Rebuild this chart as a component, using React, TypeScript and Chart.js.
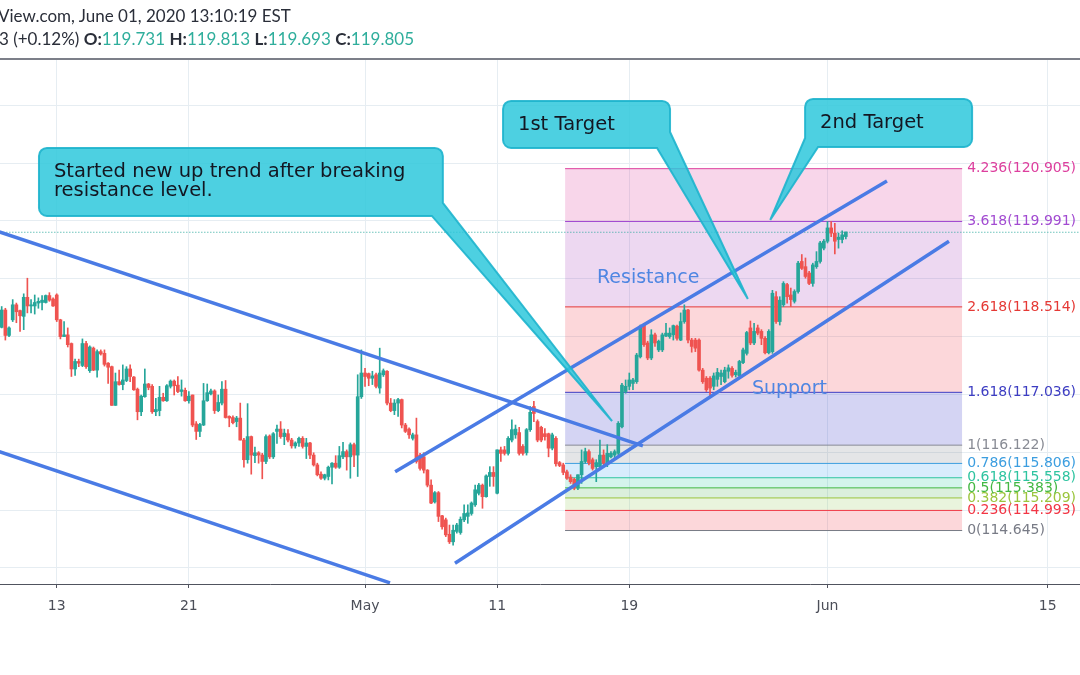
import React, { useEffect, useRef } from "react";
import { Chart, registerables } from "chart.js";

Chart.register(...registerables);

// ---- Candle data (4h candles, index 0 = first visible candle) ----
const opens = [
  118.16,118.46,118.02,118.29,118.55,118.45,118.35,118.68,118.53,118.53,
  118.58,118.59,118.59,118.71,118.65,118.72,118.29,118.00,118.03,117.88,
  117.44,117.57,117.50,117.88,117.41,117.80,117.42,117.74,117.71,117.54,
  117.48,116.81,117.22,117.17,117.24,117.44,117.30,117.09,116.70,116.96,
  117.18,117.14,116.70,116.72,116.95,116.89,117.14,117.23,117.16,117.05,
  117.07,116.89,116.99,116.49,116.36,116.47,116.89,117.01,117.06,116.72,
  116.85,117.09,116.62,116.60,116.53,116.59,116.21,115.87,116.27,115.94,
  115.99,115.95,115.84,116.28,115.92,116.36,116.40,116.27,116.32,116.21,
  116.11,116.16,116.24,116.10,116.16,115.95,115.78,115.62,115.55,115.58,
  115.74,115.81,115.74,115.92,116.01,115.92,116.13,115.95,116.96,117.37,
  117.36,117.28,117.34,117.11,117.34,117.40,116.85,116.72,116.85,116.91,
  116.47,116.40,116.24,116.30,115.95,115.92,115.69,115.43,115.14,115.30,
  114.90,114.83,114.58,114.45,114.63,114.61,114.83,114.89,114.94,115.09,
  115.29,115.43,115.23,115.58,115.65,115.29,116.04,116.04,115.98,116.21,
  116.30,116.34,116.10,115.99,116.39,116.79,116.53,116.43,116.32,116.32,
  116.07,116.24,115.82,115.78,115.66,115.57,115.53,115.38,115.61,115.84,
  116.01,115.87,115.75,115.75,115.95,115.81,115.92,115.95,115.98,116.44,
  117.05,117.14,117.19,117.22,117.65,118.20,117.89,117.63,118.03,117.77,
  117.77,118.01,118.00,118.03,118.18,117.94,118.26,118.46,117.94,117.94,
  117.94,117.42,117.28,117.28,117.14,117.26,117.31,117.22,117.40,117.45,
  117.34,117.32,117.55,117.71,118.15,117.89,118.15,118.09,117.97,117.72,
  117.74,118.69,118.26,118.55,118.90,118.72,118.61,118.78,119.30,119.21,
  119.10,118.92,119.21,119.30,119.53,119.65,119.88,119.79,119.68,119.68,119.73,
];
const highs = [
  118.52,118.49,118.17,118.64,118.58,118.46,118.74,119.01,118.64,118.72,
  118.67,118.71,118.72,118.76,118.67,118.74,118.30,118.26,118.15,117.89,
  117.61,117.61,117.96,117.92,117.84,117.82,117.77,117.77,117.77,117.55,
  117.49,117.37,117.42,117.51,117.48,117.51,117.31,117.11,116.99,117.44,
  117.19,117.17,116.93,117.14,117.02,117.17,117.25,117.25,117.31,117.25,
  117.11,117.05,116.99,116.53,116.50,117.19,117.18,117.09,117.08,116.99,
  117.22,117.24,116.63,116.63,116.62,116.85,116.24,116.84,116.28,116.09,
  116.01,115.98,116.30,116.30,116.34,116.47,116.53,116.40,116.39,116.24,
  116.18,116.26,116.27,116.24,116.17,115.99,115.81,115.66,115.62,115.76,
  115.82,115.94,116.10,116.17,116.04,116.16,116.16,117.34,117.77,117.45,
  117.37,117.40,117.37,117.80,117.44,117.41,116.93,116.91,116.93,116.92,
  116.50,116.42,116.33,116.59,115.98,115.99,115.70,115.52,115.32,115.32,
  114.91,114.86,114.74,114.74,114.77,114.88,115.09,115.09,115.14,115.43,
  115.46,115.45,115.61,115.75,115.75,116.04,116.09,116.10,116.27,116.56,
  116.47,116.43,116.13,116.41,116.79,116.88,116.56,116.45,116.41,116.33,
  116.33,116.27,115.84,115.81,115.69,115.61,115.55,115.61,116.04,116.07,
  116.04,115.90,115.87,116.21,116.04,116.13,116.01,116.04,116.53,117.19,
  117.25,117.37,117.28,117.71,118.20,118.23,117.92,118.12,118.06,117.94,
  118.06,118.23,118.15,118.20,118.20,118.41,118.55,118.47,117.97,117.97,
  117.96,117.45,117.31,117.31,117.37,117.45,117.42,117.47,117.51,117.48,
  117.42,117.59,117.80,118.09,118.27,118.23,118.20,118.12,118.00,118.12,
  118.80,118.78,118.69,118.95,118.92,118.84,118.81,119.30,119.42,119.36,
  119.13,119.27,119.47,119.65,119.68,119.99,119.99,119.96,119.79,119.83,119.81,
];
const lows = [
  118.15,117.94,118.00,118.26,118.24,118.09,118.12,118.41,118.41,118.39,
  118.49,118.46,118.58,118.61,118.52,118.26,117.96,118.00,117.82,117.31,
  117.33,117.48,117.48,117.45,117.38,117.41,117.30,117.68,117.49,117.19,
  116.81,116.81,117.16,117.08,117.22,117.22,117.07,116.56,116.63,116.95,
  117.08,116.67,116.63,116.63,116.88,116.88,117.11,116.99,117.03,116.97,
  116.88,116.85,116.44,116.22,116.27,116.46,116.88,116.99,116.67,116.70,
  116.82,116.59,116.44,116.49,116.44,116.21,115.74,115.81,115.62,115.82,
  115.81,115.54,115.80,115.89,115.89,116.15,116.24,116.13,116.18,116.07,
  116.07,116.10,116.07,115.89,115.89,115.76,115.59,115.53,115.52,115.52,
  115.45,115.72,115.72,115.89,115.69,115.55,115.75,115.58,116.93,117.14,
  117.15,117.17,117.11,117.02,117.31,116.82,116.70,116.65,116.62,116.42,
  116.34,116.24,116.21,115.81,115.69,115.64,115.40,115.11,115.12,114.80,
  114.67,114.54,114.42,114.39,114.60,114.58,114.80,114.77,114.91,115.06,
  115.26,115.03,115.22,115.41,115.41,115.28,115.84,115.95,115.95,116.18,
  116.24,115.95,115.95,115.95,116.36,116.53,116.18,116.18,116.21,115.92,
  116.04,115.76,115.75,115.61,115.53,115.46,115.35,115.35,115.46,115.81,
  115.78,115.69,115.49,115.72,115.78,115.75,115.90,115.87,115.95,116.42,
  117.02,117.08,117.08,117.19,117.63,117.83,117.60,117.60,117.83,117.74,
  117.74,118.00,117.97,117.94,117.94,117.93,118.23,117.89,117.73,117.74,
  117.40,117.19,117.05,116.96,117.08,117.14,117.17,117.20,117.28,117.30,
  117.30,117.30,117.53,117.68,117.86,117.86,118.03,117.86,117.70,117.70,
  117.71,118.23,118.20,118.52,118.58,118.52,118.58,118.75,119.16,119.01,
  118.90,118.87,119.18,119.27,119.50,119.62,119.73,119.43,119.53,119.62,119.69,
];
const closes = [
  118.46,118.02,118.15,118.55,118.43,118.36,118.68,118.53,118.55,118.59,
  118.61,118.63,118.71,118.63,118.53,118.29,118.00,118.03,117.86,117.44,
  117.57,117.54,117.88,117.48,117.82,117.42,117.74,117.70,117.52,117.47,
  116.81,117.22,117.17,117.25,117.44,117.31,117.08,116.70,116.97,117.18,
  117.12,116.70,116.74,116.95,116.89,117.15,117.23,117.15,117.05,117.08,
  116.89,116.97,116.47,116.36,116.48,116.89,117.03,117.06,116.72,116.86,
  117.09,116.60,116.59,116.51,116.59,116.21,115.87,116.27,115.95,115.99,
  115.95,115.84,116.27,115.92,116.32,116.40,116.27,116.33,116.21,116.11,
  116.16,116.24,116.10,116.16,115.95,115.78,115.61,115.55,115.61,115.74,
  115.81,115.74,115.94,116.01,115.92,116.13,115.95,116.96,117.37,117.31,
  117.28,117.32,117.14,117.37,117.41,116.85,116.72,116.85,116.91,116.47,
  116.36,116.30,116.30,115.84,115.72,115.69,115.43,115.12,115.30,114.89,
  114.71,114.57,114.45,114.65,114.74,114.84,114.94,114.95,115.12,115.35,
  115.43,115.23,115.59,115.65,115.58,116.04,115.98,115.98,116.24,116.39,
  116.40,115.98,115.98,116.39,116.69,116.67,116.21,116.21,116.27,116.07,
  116.30,115.80,115.77,115.65,115.55,115.49,115.38,115.61,115.84,116.01,
  115.82,115.72,115.82,115.95,115.81,115.98,115.98,116.01,116.50,117.16,
  117.14,117.25,117.25,117.68,118.18,117.86,117.63,118.03,117.89,117.92,
  118.03,118.06,118.06,118.19,117.97,118.26,118.46,117.94,117.83,117.80,
  117.42,117.22,117.08,117.11,117.32,117.38,117.37,117.42,117.46,117.33,
  117.38,117.57,117.77,118.07,117.89,118.09,118.06,117.97,117.72,118.09,
  118.75,118.26,118.63,118.92,118.69,118.64,118.78,119.27,119.18,119.04,
  118.92,119.24,119.30,119.62,119.65,119.88,119.79,119.65,119.72,119.76,119.81,
];

// ---- Axis ticks ----
const xTickIndex = [15, 51, 99, 135, 171, 225, 285];
const xTickLabels = ["13", "21", "May", "11", "19", "Jun", "15"];
const priceGrid = [114, 115, 116, 117, 118, 119, 120, 121, 122];

// ---- Fibonacci extension ----
const fibRatios = ["0", "0.236", "0.382", "0.5", "0.618", "0.786", "1", "1.618", "2.618", "3.618", "4.236"];
const fibPrices = [114.645, 114.993, 115.209, 115.383, 115.558, 115.806, 116.122, 117.036, 118.514, 119.991, 120.905];
const fibStartIndex = 153.5;
const fibEndIndex = 261.7;

const lastPrice = 119.805;

// ---- Trend lines: [index, price] ----
const trendStarts = [[-2, 119.84], [-2, 116.04], [107.2, 115.66], [123.5, 114.08]];
const trendEnds = [[174.7, 116.11], [105.8, 113.74], [241.2, 120.69], [258.1, 119.65]];

// ---- Styles ----
const GREEN = "#26a69a";
const RED = "#ef5350";
const TREND = "#4a7be5";
const GRID = "#e6edf2";
const fibLineColors = ["#787b86", "#f23645", "#9bc53d", "#43b843", "#2ec4a0", "#3c9ee0", "#888b94", "#3d3dc2", "#e53935", "#a24bd1", "#dd3f9e"];
const fibFillColors = [
  "rgba(0,0,0,0)",
  "rgba(242,54,69,0.2)",
  "rgba(156,204,101,0.22)",
  "rgba(76,175,80,0.2)",
  "rgba(38,198,160,0.2)",
  "rgba(100,181,246,0.25)",
  "rgba(120,123,134,0.2)",
  "rgba(60,60,200,0.22)",
  "rgba(242,54,69,0.2)",
  "rgba(156,39,176,0.18)",
  "rgba(220,50,150,0.2)",
];

// ---- Annotations (data coordinates: [index, price]) ----
const callouts = [
  {
    lines: ["Started new up trend after breaking", "resistance level."],
    box: [10.16, 121.263, 120.2, 120.087],
    tip: [166.3, 116.54],
    corner: "br",
    bottomInset: 11,
    sideInset: 13,
  },
  {
    lines: ["1st Target"],
    box: [136.6, 122.076, 182.1, 121.263],
    tip: [203.3, 118.65],
    corner: "br",
    bottomInset: 13,
    sideInset: 16,
  },
  {
    lines: ["2nd Target"],
    box: [218.9, 122.111, 264.4, 121.28],
    tip: [209.4, 120.017],
    corner: "bl",
    bottomInset: 13,
    sideInset: 9,
  },
];
const zoneTexts = [
  { text: "Resistance", at: [162.2, 118.922] },
  { text: "Support", at: [204.4, 117.002] },
];

function drawCallout(ctx: CanvasRenderingContext2D, c: any, xs: any, ys: any) {
  const L = xs.getPixelForValue(c.box[0]);
  const T = ys.getPixelForValue(c.box[1]);
  const R = xs.getPixelForValue(c.box[2]);
  const B = ys.getPixelForValue(c.box[3]);
  const tx = xs.getPixelForValue(c.tip[0]);
  const ty = ys.getPixelForValue(c.tip[1]);
  const r = 8;
  ctx.beginPath();
  ctx.moveTo(L + r, T);
  ctx.lineTo(R - r, T);
  ctx.arcTo(R, T, R, T + r, r);
  if (c.corner === "br") {
    ctx.lineTo(R, B - c.sideInset);
    ctx.lineTo(tx, ty);
    ctx.lineTo(R - c.bottomInset, B);
  } else {
    ctx.lineTo(R, B - r);
    ctx.arcTo(R, B, R - r, B, r);
  }
  if (c.corner === "bl") {
    ctx.lineTo(L + c.bottomInset, B);
    ctx.lineTo(tx, ty);
    ctx.lineTo(L, B - c.sideInset);
  } else {
    ctx.lineTo(L + r, B);
    ctx.arcTo(L, B, L, B - r, r);
  }
  ctx.lineTo(L, T + r);
  ctx.arcTo(L, T, L + r, T, r);
  ctx.closePath();
  ctx.fillStyle = "rgba(46,200,220,0.85)";
  ctx.fill();
  ctx.lineWidth = 2;
  ctx.strokeStyle = "rgba(30,180,205,0.9)";
  ctx.stroke();
  ctx.fillStyle = "#131722";
  ctx.font = "19.5px 'DejaVu Sans'";
  ctx.textBaseline = "alphabetic";
  ctx.textAlign = "left";
  c.lines.forEach((ln: string, j: number) => {
    ctx.fillText(ln, L + 15, T + 29.5 + j * 19);
  });
}

const overlayPlugin = {
  id: "overlay",
  afterDatasetsDraw(chart: any) {
    const { ctx, scales, chartArea } = chart;
    const xs = scales.x;
    const ys = scales.y;
    ctx.save();
    ctx.beginPath();
    ctx.rect(chartArea.left, chartArea.top, chartArea.right - chartArea.left, chartArea.bottom - chartArea.top);
    ctx.clip();
    // fib labels
    ctx.font = "14px 'DejaVu Sans'";
    ctx.textBaseline = "middle";
    ctx.textAlign = "left";
    const lx = xs.getPixelForValue(fibEndIndex) + 5;
    fibPrices.forEach((p, i) => {
      ctx.fillStyle = fibLineColors[i];
      ctx.fillText(`${fibRatios[i]}(${p.toFixed(3)})`, lx, ys.getPixelForValue(p));
    });
    // zone texts
    ctx.font = "19px 'DejaVu Sans'";
    ctx.textBaseline = "alphabetic";
    ctx.fillStyle = "#4f86e2";
    zoneTexts.forEach((t) => {
      ctx.fillText(t.text, xs.getPixelForValue(t.at[0]), ys.getPixelForValue(t.at[1]));
    });
    // callouts
    callouts.forEach((c) => drawCallout(ctx, c, xs, ys));
    ctx.restore();
  },
};

export default function App() {
  const ref = useRef<HTMLCanvasElement>(null);

  useEffect(() => {
    document.body.style.margin = "0";
    const canvas = ref.current;
    if (!canvas) return;
    const candleColors = opens.map((o, i) => (closes[i] >= o ? GREEN : RED));
    const datasets: any[] = [];
    fibPrices.forEach((p, i) => {
      datasets.push({
        type: "line",
        data: [
          { x: fibStartIndex, y: p },
          { x: fibEndIndex, y: p },
        ],
        borderColor: fibLineColors[i],
        borderWidth: 1,
        pointRadius: 0,
        backgroundColor: fibFillColors[i],
        fill: i === 0 ? false : "-1",
        order: 100,
      });
    });
    datasets.push({
      type: "line",
      data: [
        { x: -2, y: lastPrice },
        { x: 300, y: lastPrice },
      ],
      borderColor: GREEN,
      borderWidth: 1,
      borderDash: [1, 2],
      pointRadius: 0,
      fill: false,
      order: 60,
    });
    datasets.push({
      type: "bar",
      data: opens.map((_, i) => ({ x: i, y: [lows[i], highs[i]] })),
      backgroundColor: candleColors,
      barThickness: 1,
      grouped: false,
      order: 50,
    });
    datasets.push({
      type: "bar",
      data: opens.map((_, i) => ({ x: i, y: [opens[i], closes[i]] })),
      backgroundColor: candleColors,
      barThickness: 3,
      minBarLength: 1,
      grouped: false,
      order: 49,
    });
    trendStarts.forEach((s, i) => {
      datasets.push({
        type: "line",
        data: [
          { x: s[0], y: s[1] },
          { x: trendEnds[i][0], y: trendEnds[i][1] },
        ],
        borderColor: TREND,
        borderWidth: 3.5,
        pointRadius: 0,
        fill: false,
        order: 10,
      });
    });

    const chart = new Chart(canvas, {
      type: "bar",
      data: { datasets },
      options: {
        animation: false,
        responsive: false,
        devicePixelRatio: 1,
        layout: { padding: { top: 60, left: 0, right: 0, bottom: 0 } },
        plugins: { legend: { display: false }, tooltip: { enabled: false } },
        events: [],
        scales: {
          x: {
            type: "linear",
            min: -0.46,
            max: 293.8,
            offset: false,
            afterBuildTicks: (s: any) => {
              s.ticks = xTickIndex.map((v) => ({ value: v }));
            },
            afterFit: (s: any) => {
              s.height = 91;
            },
            ticks: {
              autoSkip: false,
              maxRotation: 0,
              padding: 10,
              color: "#4b4e58",
              font: { family: "'DejaVu Sans'", size: 14 },
              callback: (v: any) => {
                const j = xTickIndex.indexOf(Number(v));
                return j >= 0 ? xTickLabels[j] : "";
              },
            },
            grid: { color: GRID, lineWidth: 1, tickLength: 4, tickColor: "#50535e", offset: false },
            border: { display: true, color: "#50535e", width: 1 },
          },
          y: {
            type: "linear",
            min: 113.72,
            max: 122.785,
            position: "left",
            afterBuildTicks: (s: any) => {
              s.ticks = priceGrid.map((v) => ({ value: v }));
            },
            afterFit: (s: any) => {
              s.width = 0;
            },
            ticks: { display: false },
            grid: { color: GRID, drawTicks: false },
            border: { display: false },
          },
        },
      } as any,
      plugins: [overlayPlugin],
    });
    return () => chart.destroy();
  }, []);

  const teal = { color: "#2fae9c" };
  return (
    <div style={{ position: "absolute", left: 0, top: 0, width: 1080, height: 675, background: "#fff", overflow: "hidden" }}>
      <canvas ref={ref} width={1080} height={675} style={{ display: "block", position: "absolute", left: 0, top: 0 }} />
      <div style={{ position: "absolute", left: -2, top: 5, font: "17px Lato", color: "#2a2e39", whiteSpace: "nowrap" }}>
        View.com, June 01, 2020 13:10:19 EST
      </div>
      <div style={{ position: "absolute", left: -1, top: 28, font: "17px Lato", color: "#2a2e39", whiteSpace: "nowrap" }}>
        3 (+0.12%) <b>O:</b><span style={teal}>119.731</span> <b>H:</b><span style={teal}>119.813</span>{" "}
        <b>L:</b><span style={teal}>119.693</span> <b>C:</b><span style={teal}>119.805</span>
      </div>
      <div style={{ position: "absolute", left: 0, top: 58, width: 1080, height: 2, background: "#7c7f89" }} />
    </div>
  );
}
